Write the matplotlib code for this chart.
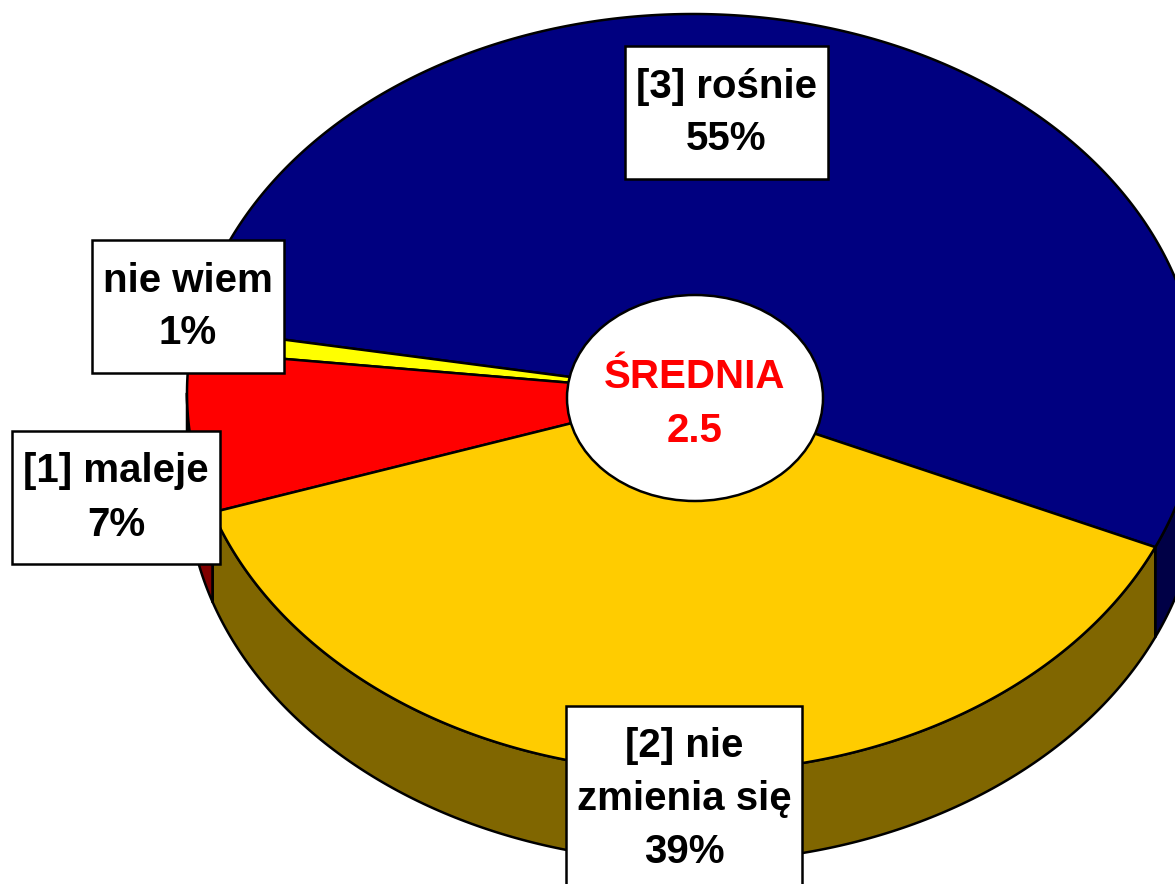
import numpy as np
import matplotlib
matplotlib.use("Agg")
import matplotlib.pyplot as plt
from matplotlib.patches import Polygon, Ellipse, Rectangle

plt.rcParams['font.family'] = ['Liberation Sans', 'DejaVu Sans']

# data
labels = ['[3] rośnie', 'nie wiem', '[1] maleje', '[2] nie\nzmienia się']
shares = [55, 1, 7, 39]
top_colors = ['#000080', '#FFFF00', '#FF0000', '#FFCC00']
side_colors = ['#000046', '#808000', '#800000', '#806600']
mean_label = 'ŚREDNIA'
mean_value = 2.5

# label box centres (pixel layout)
label_pos = [(726, 113), (188, 307), (116, 498), (684, 799)]

# pie geometry in pixels
cx, cy = 693, 393
a, b = 506, 379
depth = 90
start = -24.0

fig = plt.figure(figsize=(11.75, 8.84), dpi=100)
ax = fig.add_axes([0, 0, 1, 1])
ax.set_xlim(0, 1175)
ax.set_ylim(884, 0)
ax.axis('off')


def pt(deg, dz=0.0):
    t = np.radians(deg)
    return cx + a * np.cos(t), cy - b * np.sin(t) + dz


bounds = start + 360.0 * np.concatenate([[0], np.cumsum(shares)]) / sum(shares)

# side walls (front half only)
for i in range(len(shares)):
    lo, hi = bounds[i], bounds[i + 1]
    for k in (-1, 0, 1):
        s = max(lo, 180 + 360 * k)
        e = min(hi, 360 + 360 * k)
        if e <= s:
            continue
        t = np.linspace(s, e, 200)
        xs, ys = pt(t)
        xb, yb = pt(t[::-1], depth)
        poly = np.column_stack([np.concatenate([xs, xb]), np.concatenate([ys, yb])])
        ax.add_patch(Polygon(poly, closed=True, facecolor=side_colors[i],
                             edgecolor='black', linewidth=1.8, joinstyle='round'))

# top face
for i in range(len(shares)):
    t = np.linspace(bounds[i], bounds[i + 1], 400)
    xs, ys = pt(t)
    poly = np.column_stack([np.concatenate([[cx], xs]), np.concatenate([[cy], ys])])
    ax.add_patch(Polygon(poly, closed=True, facecolor=top_colors[i],
                         edgecolor='black', linewidth=1.8, joinstyle='round'))

# centre ellipse with the mean
ax.add_patch(Ellipse((695, 398), 256, 206, facecolor='white',
                     edgecolor='black', linewidth=1.8, zorder=5))
ax.text(695, 404, f'{mean_label}\n{mean_value}', color='#FF0000', fontsize=29,
        fontweight='bold', ha='center', va='center', linespacing=1.5, zorder=6)

# slice labels, boxes sized around the text
texts = []
for lab, sh, (x, y) in zip(labels, shares, label_pos):
    texts.append(ax.text(x, y, f'{lab}\n{sh}%', fontsize=29, fontweight='bold',
                         ha='center', va='center', linespacing=1.5, zorder=8))

fig.canvas.draw()
renderer = fig.canvas.get_renderer()
padx, pady = 11, 21
for t in texts:
    bb = t.get_window_extent(renderer).transformed(ax.transData.inverted())
    x0, x1 = sorted([bb.x0, bb.x1])
    y0, y1 = sorted([bb.y0, bb.y1])
    ax.add_patch(Rectangle((x0 - padx, y0 - pady), (x1 - x0) + 2 * padx,
                           (y1 - y0) + 2 * pady, facecolor='white',
                           edgecolor='black', linewidth=1.8, zorder=7))

fig.savefig('out.png', dpi=100)
